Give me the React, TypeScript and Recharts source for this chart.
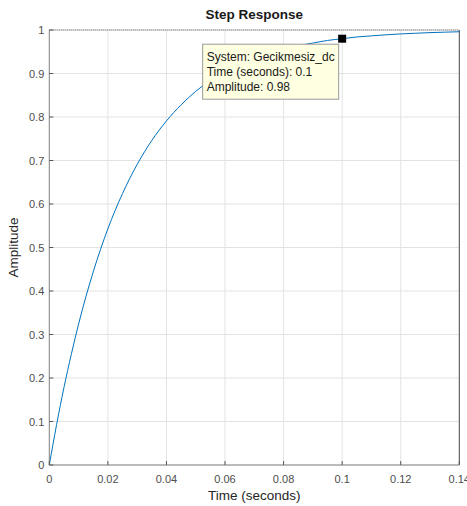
import React from "react";
import { LineChart, Line, XAxis, YAxis, CartesianGrid, ReferenceLine, ReferenceDot, Label } from "recharts";

const times = [0, 0.0025, 0.005, 0.0075, 0.01, 0.015, 0.02, 0.025, 0.03, 0.035, 0.04, 0.045, 0.05, 0.055, 0.06, 0.065, 0.07, 0.075, 0.08, 0.085, 0.09, 0.095, 0.1, 0.105, 0.11, 0.115, 0.12, 0.125, 0.13, 0.135, 0.14];
const amplitudes = [0, 0.093, 0.178, 0.254, 0.324, 0.444, 0.543, 0.624, 0.691, 0.746, 0.791, 0.828, 0.859, 0.884, 0.904, 0.921, 0.935, 0.947, 0.956, 0.964, 0.970, 0.976, 0.980, 0.984, 0.9865, 0.989, 0.991, 0.9925, 0.994, 0.995, 0.996];
const xTicks = [0, 0.02, 0.04, 0.06, 0.08, 0.1, 0.12, 0.14];
const yTicks = [0, 0.1, 0.2, 0.3, 0.4, 0.5, 0.6, 0.7, 0.8, 0.9, 1];
const tipSystem = "Gecikmesiz_dc";
const tipTime = 0.1;
const tipAmp = 0.98;

const data = times.map((t, i) => ({ t, a: amplitudes[i] }));

const FONT = '"Liberation Sans", Arial, Helvetica, sans-serif';

const fmt = (v: number) => String(Number(v.toFixed(4)));

const YTick = (props: any) => {
  const { x, y, payload } = props;
  return (
    <g>
      <line x1={x + 5} x2={x + 9} y1={y} y2={y} stroke="#555" strokeWidth={1} />
      <text x={x} y={y} dy={4} textAnchor="end" fontSize={11} fill="#4d4d4d" fontFamily={FONT}>
        {fmt(payload.value)}
      </text>
    </g>
  );
};

const XTick = (props: any) => {
  const { x, y, payload } = props;
  return (
    <g>
      <line x1={x} x2={x} y1={y - 9} y2={y - 5} stroke="#555" strokeWidth={1} />
      <text x={x} y={y} dy={13} textAnchor="middle" fontSize={11} fill="#4d4d4d" fontFamily={FONT}>
        {fmt(payload.value)}
      </text>
    </g>
  );
};

const TipShape = (props: any) => {
  const { cx, cy } = props;
  const bx = cx - 139.5;
  const by = cy + 5.5;
  return (
    <g>
      <rect x={cx - 4} y={cy - 4} width={8} height={8} fill="#000" />
      <rect x={bx} y={by} width={136} height={55} fill="#ffffe1" stroke="#9a9a9a" strokeWidth={1} />
      <text fontSize={12} fill="#1a1a1a" fontFamily={FONT}>
        <tspan x={bx + 4} y={by + 17}>{`System: ${tipSystem}`}</tspan>
        <tspan x={bx + 4} y={by + 32}>{`Time (seconds): ${tipTime}`}</tspan>
        <tspan x={bx + 4} y={by + 47}>{`Amplitude: ${tipAmp}`}</tspan>
      </text>
    </g>
  );
};

export default function App() {
  return (
    <div style={{ position: "absolute", left: 0, top: 0, width: 467, height: 506, background: "#fff" }}>
      <LineChart width={467} height={506} data={data} margin={{ top: 30, right: 7.7, bottom: 0, left: 0.3 }}>
        <CartesianGrid stroke="#e3e3e3" strokeWidth={1} />
        <XAxis
          dataKey="t"
          type="number"
          domain={[0, 0.14]}
          ticks={xTicks}
          height={41}
          tickSize={4}
          tickMargin={1}
          tickLine={false}
          tick={<XTick />}
          axisLine={{ stroke: "#858585" }}
          interval={0}
        >
          <Label
            content={(p: any) => {
              const vb = p.viewBox;
              return (
                <text x={vb.x + vb.width / 2} y={500} textAnchor="middle" fontSize={13.5} fill="#262626" fontFamily={FONT}>
                  Time (seconds)
                </text>
              );
            }}
          />
        </XAxis>
        <YAxis
          type="number"
          domain={[0, 1]}
          ticks={yTicks}
          width={49}
          tickSize={4}
          tickMargin={1}
          tickLine={false}
          tick={<YTick />}
          axisLine={{ stroke: "#858585" }}
          interval={0}
        >
          <Label
            content={(p: any) => {
              const vb = p.viewBox;
              const cy = vb.y + vb.height / 2;
              return (
                <text x={18} y={cy} textAnchor="middle" fontSize={13.5} fill="#262626" fontFamily={FONT} transform={`rotate(-90 18 ${cy})`}>
                  Amplitude
                </text>
              );
            }}
          />
        </YAxis>
        <ReferenceLine x={0.14} stroke="#4d4d4d" strokeWidth={1} />
        <Line type="monotone" dataKey="a" stroke="#0072BD" strokeWidth={1} dot={false} isAnimationActive={false} />
        <ReferenceLine y={1} stroke="#5a5a5a" strokeWidth={1} strokeDasharray="1 1" />
        <ReferenceDot x={tipTime} y={tipAmp} r={4} shape={<TipShape />} />
        <text x={254.3} y={19} textAnchor="middle" fontSize={13.5} fontWeight="bold" fill="#1a1a1a" fontFamily={FONT}>
          Step Response
        </text>
      </LineChart>
    </div>
  );
}
